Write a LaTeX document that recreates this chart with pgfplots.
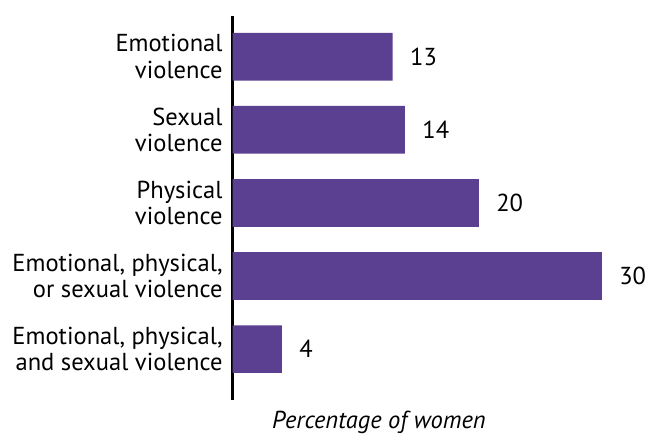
\documentclass[border=0pt]{standalone}
\usepackage{fontspec}
\setmainfont{PT Sans}
\usepackage{pgfplots}
\pgfplotsset{compat=1.18}
\definecolor{barpurple}{HTML}{5B3F91}
\newcommand{\chartfont}{\fontsize{18.5}{20}\selectfont}
\begin{document}
\begin{tikzpicture}
\begin{axis}[
    xbar,
    scale only axis,
    width=278.25pt, height=289.5pt,
    xmin=0, xmax=30,
    ymin=-0.558, ymax=4.694,
    y dir=reverse,
    axis lines=left,
    x axis line style={draw=none},
    y axis line style={-, line width=2.2pt, black},
    xtick=\empty,
    ytick={0,1,2,3,4},
    major tick length=0pt,
    yticklabels={Emotional\\violence, Sexual\\violence, Physical\\violence,
        {Emotional, physical,\\or sexual violence},
        {Emotional, physical,\\and sexual violence}},
    yticklabel style={align=right, inner sep=0pt, xshift=-7.5pt,
        font=\chartfont},
    bar width=36pt,
    nodes near coords,
    /pgf/number format/assume math mode=true,
    nodes near coords style={anchor=west, inner sep=0pt, xshift=13pt,
        font=\chartfont},
    xlabel={Percentage of women},
    xlabel style={font=\chartfont\itshape,
        at={(rel axis cs:0.396,0)}, anchor=north, yshift=-5pt},
    clip=false,
]
\addplot[fill=barpurple, draw=none] coordinates {
    (13,0) (14,1) (20,2) (30,3) (4,4)
};
\end{axis}
\path (current axis.south west) ++(-175.5pt,-22.5pt) coordinate (bbsw);
\path (current axis.north east) ++(30.75pt,12pt) coordinate (bbne);
\path[draw=none] (bbsw) rectangle (bbne);
\end{tikzpicture}
\end{document}
